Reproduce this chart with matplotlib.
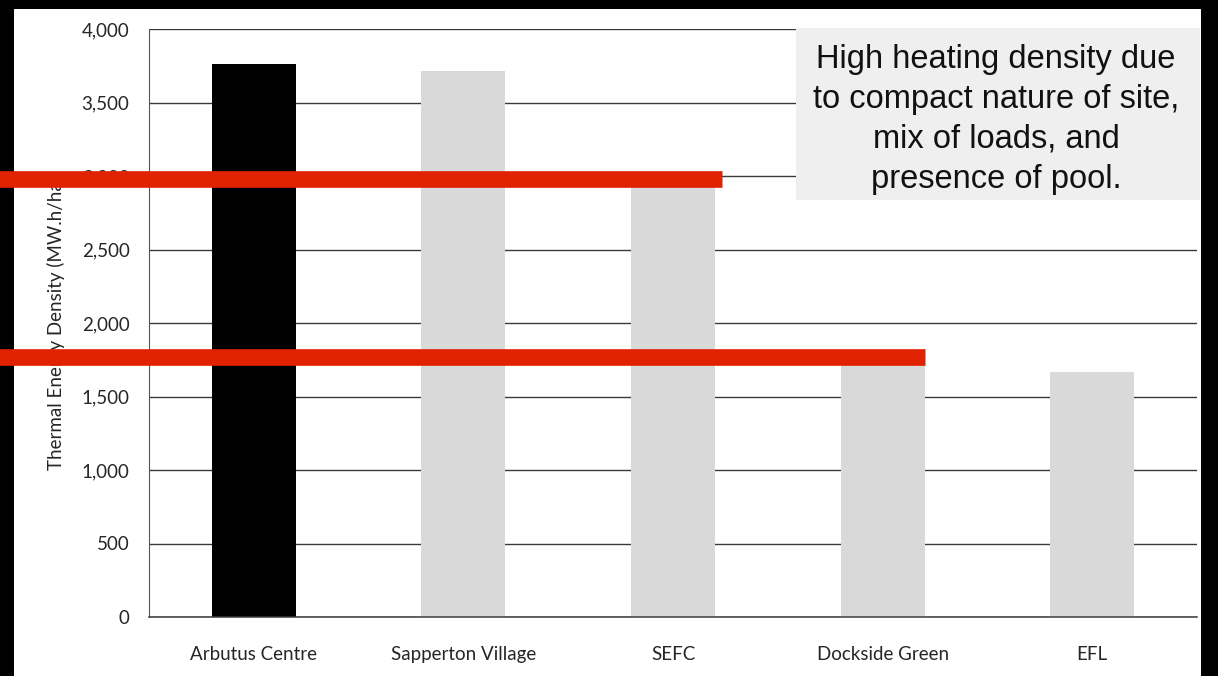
import matplotlib
matplotlib.use("Agg")
import matplotlib.pyplot as plt
from matplotlib.patches import Rectangle

sites = ["Arbutus Centre", "Sapperton Village", "SEFC", "Dockside Green", "EFL"]
density = [3760, 3715, 2980, 1768, 1664]
bar_colors = ["#000000", "#d9d9d9", "#d9d9d9", "#d9d9d9", "#d9d9d9"]
yticks = [0, 500, 1000, 1500, 2000, 2500, 3000, 3500, 4000]
ytick_labels = ["0", "500", "1,000", "1,500", "2,000", "2,500", "3,000", "3,500", "4,000"]
# red strike lines drawn at these sites' values
red_sites = [2, 3]

plt.rcParams["font.family"] = ["Lato", "DejaVu Sans"]

fig = plt.figure(figsize=(12.18, 6.76), dpi=100)
fig.patch.set_facecolor("black")
fig.patches.append(Rectangle((14 / 1218, 0), (1201 - 14) / 1218, 1 - 9 / 676,
                             transform=fig.transFigure, facecolor="white",
                             edgecolor="none", zorder=-10))

ax = fig.add_axes([149 / 1218, 1 - 617 / 676, (1197 - 149) / 1218, (617 - 29) / 676])
ax.set_facecolor("white")
x = list(range(len(sites)))
ax.bar(x, density, width=0.4, color=bar_colors, zorder=2)
ax.set_xlim(-0.5, len(sites) - 0.5)
ax.set_ylim(0, 4000)
ax.set_yticks(yticks)
ax.set_yticklabels(ytick_labels, fontsize=13.5, color="#262626")
ax.set_xticks(x)
ax.set_xticklabels(sites, fontsize=13.5, color="#262626")
ax.tick_params(axis="y", length=0, pad=14)
ax.tick_params(axis="x", length=0, pad=21)
ax.grid(axis="y", color="#3a3a3a", linewidth=1.0, zorder=1)
for s in ["right", "top"]:
    ax.spines[s].set_visible(False)
ax.spines["left"].set_color("#555555")
ax.spines["left"].set_linewidth(0.8)
ax.spines["bottom"].set_color("#3a3a3a")
ax.spines["bottom"].set_linewidth(1.1)
ax.set_ylabel("Thermal Energy Density (MW.h/ha)", fontsize=13.5, color="#262626")
ax.yaxis.set_label_coords(-0.08, 0.5)

# red overlay strikes from the left edge of the image to the bar's right side
x_left = ax.transData.inverted().transform(fig.transFigure.transform((0, 0)))[0] - 0.02
ends = [2.234, 3.2]
for i, xe in zip(red_sites, ends):
    ax.plot([x_left, xe], [density[i], density[i]], color="#e02200",
            linewidth=12, solid_capstyle="butt", clip_on=False, zorder=5)

# note box
box = Rectangle((796 / 1218, 1 - 200 / 676), (1200 - 796) / 1218, (200 - 28) / 676,
                transform=fig.transFigure, facecolor="#efefef", edgecolor="none",
                zorder=4, clip_on=False)
ax.add_patch(box)
ax.text(996 / 1218, 1 - 119.5 / 676,
        "High heating density due\nto compact nature of site,\nmix of loads, and\npresence of pool.",
        transform=fig.transFigure, ha="center", va="center", fontsize=23.5,
        family=["Liberation Sans", "DejaVu Sans"], color="#111111",
        linespacing=1.37, zorder=6)

fig.savefig("out.png", dpi=100, facecolor=fig.get_facecolor())
